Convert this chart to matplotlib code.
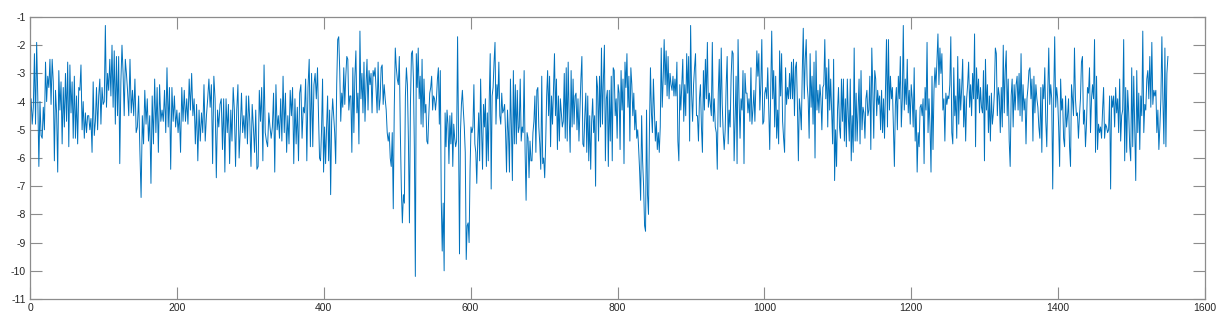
import numpy as np
import matplotlib.pyplot as plt

plt.rcParams['font.family'] = ['Liberation Sans', 'DejaVu Sans']
plt.rcParams['axes.unicode_minus'] = False

seg_edges = [0, 132.8, 262.1, 391.5, 520.8, 650.2, 779.5, 908.9, 1038.3, 1167.6, 1297.0, 1426.3, 1549.5]

seg01 = [-4.8, -3.9, -4.8, -4.2, -2.3, -4.8, -1.9, -3.8, -6.3, -4.0, -5.2, -5.3, -4.2, -5.0, -2.6, -4.0,
         -3.1, -3.5, -2.5, -4.1, -2.5, -3.3, -6.1, -3.6, -4.4, -6.5, -2.9, -4.3, -3.3, -5.5, -3.5, -4.9,
         -3.0, -4.7, -2.6, -5.6, -2.7, -4.4, -3.3, -5.3, -3.1, -5.3, -3.8, -5.5, -3.5, -3.6, -2.7, -5.0,
         -4.0, -5.3, -4.4, -5.1, -4.5, -4.5, -5.0, -4.6, -5.8, -3.3, -5.2, -4.7, -3.5, -5.0, -3.8, -3.2,
         -4.8, -3.5, -4.1, -4.0, -1.3, -4.2, -3.0, -3.6, -2.5, -3.8, -2.0, -4.2, -2.2, -4.8, -2.4, -4.5,
         -2.4, -6.2, -3.3, -2.0, -3.0, -4.5, -2.5, -3.0]
seg02 = [-3.6, -4.5, -2.5, -4.4, -3.6, -4.5, -3.2, -5.1, -4.9, -3.8, -5.7, -7.4, -4.5, -5.5, -3.6, -4.8,
         -3.9, -5.4, -4.5, -6.9, -3.8, -5.5, -3.2, -5.1, -3.5, -5.8, -3.4, -4.7, -4.3, -4.7, -3.6, -5.1,
         -2.8, -4.9, -3.5, -6.4, -3.5, -4.7, -3.8, -4.9, -4.3, -5.1, -4.4, -5.8, -3.5, -4.7, -3.6, -4.7,
         -3.9, -4.8, -3.2, -4.3, -3.0, -4.5, -3.9, -5.5, -4.1, -6.1, -4.3, -5.4, -4.4, -5.1, -3.4, -5.4,
         -4.5, -3.9, -3.2, -4.2, -3.4, -6.2, -3.1, -3.9, -6.7, -4.3, -4.9, -4.1, -3.9]
seg03 = [-5.7, -3.9, -6.5, -3.9, -5.1, -4.1, -6.2, -4.3, -5.4, -3.5, -4.3, -6.3, -4.3, -3.4, -6.0, -5.0,
         -3.7, -5.1, -4.5, -5.3, -3.8, -5.5, -3.8, -4.7, -6.3, -4.1, -4.9, -5.8, -4.3, -6.4, -6.3, -3.6,
         -4.7, -3.5, -6.1, -2.7, -5.1, -5.4, -5.6, -4.4, -4.9, -5.3, -4.9, -3.7, -6.5, -3.4, -5.0, -4.5,
         -5.3, -3.9, -5.4, -3.1, -5.1, -3.7, -5.8, -4.5, -5.5, -3.6, -4.5, -3.5, -6.2, -3.9, -5.5, -4.2,
         -6.1, -3.7, -3.4, -5.3, -4.2, -4.4, -3.2, -6.1, -3.5, -2.5, -5.6, -3.0, -5.6, -3.4, -3.0, -3.9]
seg04 = [-2.8, -4.5, -6.0, -6.1, -5.0, -3.2, -6.5, -4.9, -6.2, -4.9, -3.8, -6.1, -4.3, -7.3, -4.7, -3.9,
         -4.5, -5.1, -6.2, -3.4, -1.8, -1.7, -2.9, -4.7, -3.7, -4.2, -2.8, -4.1, -3.1, -2.4, -2.5, -4.3,
         -3.8, -3.8, -5.8, -2.8, -5.1, -3.1, -2.2, -4.4, -3.7, -5.5, -1.5, -3.9, -3.0, -4.4, -2.6, -4.7,
         -3.4, -2.5, -4.3, -2.9, -3.4, -3.0, -4.4, -2.9, -3.1, -2.8, -3.6, -4.4, -2.6, -4.3, -3.9, -2.8,
         -2.7, -4.1, -3.4, -3.9, -4.3, -5.1, -5.4, -5.1, -6.0, -6.3, -5.1, -7.8, -4.2, -2.1, -2.8, -3.2,
         -3.4, -2.4, -5.1, -7.1, -8.3, -7.3, -7.6, -3.8, -2.8, -3.4, -5.4, -8.3, -4.1, -2.3]
seg05 = [-2.2, -3.2, -5.7, -10.2, -2.3, -3.5, -2.1, -3.9, -3.1, -4.8, -2.5, -4.9, -3.2, -4.4, -4.1, -5.4,
         -5.5, -4.5, -3.7, -3.5, -3.1, -4.3, -3.8, -3.9, -4.3, -3.9, -3.2, -2.8, -4.8, -2.9, -7.5, -9.3,
         -7.6, -10.0, -4.4, -5.6, -4.3, -4.8, -6.2, -4.5, -5.5, -4.4, -6.3, -4.8, -5.3, -5.6, -5.4, -1.7,
         -5.1, -9.4, -5.1, -4.1, -3.6, -4.3, -4.9, -5.8, -9.6, -8.4, -8.3, -9.0, -6.4, -4.9, -5.1, -4.9,
         -3.4, -5.5, -5.8, -6.9, -5.4, -4.4, -6.1, -3.2, -5.0, -6.4, -4.1, -4.9, -3.9, -6.3, -4.4, -6.1,
         -3.9, -2.3, -7.1, -3.8, -3.5, -2.6, -1.9, -4.8, -3.4, -3.9, -2.6, -4.5, -4.8, -3.7, -4.4, -4.3,
         -4.1, -5.1, -6.5]
seg06 = [-4.3, -5.1, -6.5, -3.2, -4.9, -6.8, -2.9, -5.5, -3.4, -5.5, -3.6, -5.1, -4.9, -3.2, -5.4, -4.9,
         -5.1, -2.9, -5.8, -7.5, -5.1, -5.3, -6.7, -5.4, -6.1, -6.1, -5.1, -4.7, -3.8, -5.8, -3.6, -3.5,
         -4.9, -5.5, -6.4, -3.1, -6.2, -6.0, -6.7, -5.5, -3.8, -2.9, -4.5, -3.1, -5.6, -3.8, -4.8, -3.5,
         -2.3, -4.5, -3.2, -5.7, -3.8, -5.4, -3.9, -4.4, -4.9, -4.7, -3.0, -5.3, -2.8, -5.4, -2.6, -4.5,
         -5.8, -2.9, -4.9, -3.2, -4.8, -3.8, -3.7, -5.0, -3.9, -5.4, -4.3, -3.2, -2.4, -5.5, -5.6, -4.5,
         -3.7, -5.8, -3.8, -6.1, -4.5, -6.4, -4.7, -3.9, -5.1, -4.5, -7.0, -3.1, -3.5, -5.4, -3.1, -4.9,
         -2.1]
seg07 = [-4.8, -3.2, -2.0, -6.1, -3.9, -3.6, -6.3, -3.6, -5.4, -3.1, -6.1, -2.8, -2.9, -4.5, -3.9, -5.3,
         -3.4, -3.7, -5.7, -2.9, -4.3, -3.2, -6.2, -2.6, -3.5, -2.3, -4.2, -3.1, -5.4, -2.8, -3.4, -4.5,
         -3.7, -5.0, -4.3, -5.3, -5.0, -5.7, -6.5, -7.5, -4.5, -6.1, -7.0, -8.4, -8.6, -4.3, -7.3, -8.0,
         -4.9, -2.8, -4.4, -5.1, -3.2, -4.3, -5.4, -4.7, -5.7, -5.1, -5.8, -4.9, -2.1, -4.2, -3.2, -1.8,
         -3.4, -2.2, -3.8, -2.4, -3.9, -3.0, -3.4, -3.6, -3.1, -3.8, -3.2, -3.8, -2.6, -5.4, -6.1, -3.4,
         -4.3, -3.4, -2.5, -4.7, -3.4, -4.5, -2.3, -3.7, -2.4, -5.4, -1.3, -3.7, -4.7, -3.4, -2.8, -2.3,
         -4.5]
seg08 = [-4.5, -5.4, -3.9, -3.4, -4.9, -5.8, -2.9, -4.3, -2.5, -3.9, -1.9, -4.2, -3.7, -4.1, -4.5, -1.9,
         -4.7, -3.9, -4.9, -5.1, -6.4, -3.7, -2.5, -4.9, -2.1, -4.1, -5.1, -5.7, -5.0, -3.4, -2.4, -5.5,
         -4.3, -4.9, -3.1, -2.2, -2.3, -6.1, -4.7, -3.1, -6.2, -1.8, -3.9, -5.3, -3.9, -4.3, -2.9, -6.2,
         -3.0, -3.7, -3.7, -4.4, -3.9, -4.7, -2.8, -4.8, -4.3, -3.6, -4.7, -3.5, -2.2, -3.1, -2.3, -4.3,
         -3.4, -1.8, -4.8, -4.7, -3.7, -3.5, -3.9, -2.8, -4.3, -5.7, -3.5, -1.5, -3.9, -2.9, -4.9, -3.1,
         -5.3, -4.3, -5.5, -2.2, -3.8, -2.3, -4.7, -5.3, -5.8, -2.8, -4.1, -3.5, -3.9, -3.0, -3.9, -2.6]
seg09 = [-3.9, -2.5, -4.5, -2.8, -2.6, -4.1, -6.1, -3.9, -4.3, -5.0, -2.9, -1.4, -3.9, -2.5, -1.8, -3.4,
         -3.9, -5.3, -2.3, -4.2, -3.1, -4.8, -2.6, -6.0, -2.2, -4.3, -3.6, -4.4, -3.4, -3.9, -5.0, -3.5,
         -3.4, -1.8, -3.9, -2.8, -4.9, -2.5, -4.3, -3.2, -4.4, -5.5, -2.5, -6.8, -5.0, -6.3, -4.3, -3.5,
         -4.9, -5.3, -3.2, -4.7, -3.2, -5.4, -3.9, -5.6, -3.2, -4.5, -5.4, -3.2, -6.1, -4.5, -5.8, -2.1,
         -5.4, -3.7, -5.4, -4.3, -3.2, -5.5, -2.9, -5.0, -4.2, -4.4, -5.3, -3.9, -3.6, -4.5, -4.3, -3.1,
         -5.7, -2.1, -3.5, -5.3, -2.9, -3.2, -4.5, -3.6, -4.1, -3.8, -5.0, -3.6, -5.1, -3.9, -5.3, -3.5,
         -1.8]
seg10 = [-4.9, -1.8, -4.3, -3.1, -3.9, -3.5, -4.9, -6.3, -4.1, -3.5, -5.0, -3.1, -3.9, -2.4, -4.9, -3.9,
         -1.3, -4.3, -3.2, -4.1, -2.5, -4.4, -3.6, -4.8, -3.4, -3.9, -4.9, -2.8, -5.4, -4.3, -6.5, -5.1,
         -5.6, -4.2, -4.1, -4.5, -3.9, -6.2, -3.5, -4.3, -1.9, -5.1, -3.9, -4.9, -6.5, -3.1, -5.7, -3.6,
         -2.8, -3.5, -2.5, -1.6, -3.4, -2.1, -3.0, -2.3, -4.3, -3.9, -5.4, -3.7, -4.1, -3.8, -3.9, -3.4,
         -1.7, -5.1, -5.5, -2.8, -4.5, -3.8, -5.3, -2.4, -4.8, -3.2, -4.3, -3.5, -2.5, -4.9, -3.8, -5.4,
         -3.9, -3.4, -2.6, -4.2, -3.4, -4.5, -3.0, -3.9, -1.6, -5.6, -2.8, -3.9, -3.2, -4.4, -3.5, -4.2]
seg11 = [-4.4, -2.9, -6.1, -2.5, -4.3, -3.4, -5.1, -3.8, -5.4, -3.7, -4.8, -4.4, -3.7, -2.1, -2.3, -4.5,
         -3.5, -3.8, -5.1, -3.5, -4.9, -2.0, -4.4, -2.9, -2.2, -4.5, -3.2, -5.4, -6.3, -3.8, -3.2, -4.9,
         -3.4, -4.3, -3.4, -3.1, -4.3, -3.0, -4.5, -2.3, -4.7, -3.4, -4.3, -3.9, -5.5, -3.9, -3.5, -2.9,
         -2.8, -3.9, -3.2, -5.4, -3.1, -4.4, -3.4, -3.9, -4.2, -4.9, -5.3, -3.5, -5.8, -3.4, -3.9, -2.8,
         -4.7, -5.6, -3.7, -2.1, -4.1, -3.4, -3.9, -7.1, -3.9, -1.7, -4.2, -3.5, -3.9, -4.9, -6.3, -3.2,
         -4.3, -3.9, -5.3, -5.6, -3.8, -4.9, -4.5, -3.9, -5.6, -6.3, -3.4, -3.9, -4.5, -2.1, -3.9, -4.5]
seg12 = [-4.4, -5.3, -4.5, -3.9, -2.6, -2.4, -4.8, -4.3, -5.6, -4.8, -3.5, -3.7, -2.8, -5.1, -3.9, -3.4,
         -3.9, -1.8, -5.8, -3.1, -5.7, -4.8, -5.1, -4.9, -5.3, -4.3, -3.5, -5.3, -4.8, -4.9, -5.1, -5.0,
         -3.8, -7.1, -3.8, -4.2, -3.8, -4.9, -3.5, -4.4, -3.9, -5.1, -3.2, -5.4, -4.5, -4.3, -1.8, -6.1,
         -3.5, -5.8, -3.6, -4.4, -5.6, -6.1, -2.8, -5.6, -3.1, -4.9, -6.8, -2.9, -5.1, -3.7, -5.7, -3.8,
         -4.5, -1.5, -5.1, -4.1, -4.3, -3.2, -2.9, -3.9, -2.4, -4.2, -1.9, -4.1, -3.6, -3.8, -3.6, -5.1,
         -4.3, -5.7, -4.9, -3.9, -1.7, -3.9, -5.5, -2.1, -5.6, -3.0, -2.4]

segments = [seg01, seg02, seg03, seg04, seg05, seg06, seg07, seg08, seg09, seg10, seg11, seg12]

xs, ys = [], []
for i, seg in enumerate(segments):
    last = i == len(segments) - 1
    xs.append(np.linspace(seg_edges[i], seg_edges[i + 1], len(seg), endpoint=last))
    ys.append(np.array(seg))
x = np.concatenate(xs)
y = np.concatenate(ys)

fig = plt.figure(figsize=(12.3, 3.22), dpi=100)
ax = fig.add_axes([30 / 1230, 1 - 299 / 322, 1175 / 1230, 282 / 322])
ax.plot(x, y, color='#0072BD', linewidth=0.7)

ax.set_xlim(0, 1600)
ax.set_ylim(-11, -1)
ax.set_xticks(np.arange(0, 1601, 200))
ax.set_yticks(np.arange(-11, 0, 1))

for s in ax.spines.values():
    s.set_color('#8c8c8c')
    s.set_linewidth(0.9)
ax.tick_params(direction='in', length=8.4, width=0.8, color='#8c8c8c',
               top=True, right=True, labelsize=7.5, labelcolor='#262626', pad=3)

fig.savefig('out.png', dpi=100)
